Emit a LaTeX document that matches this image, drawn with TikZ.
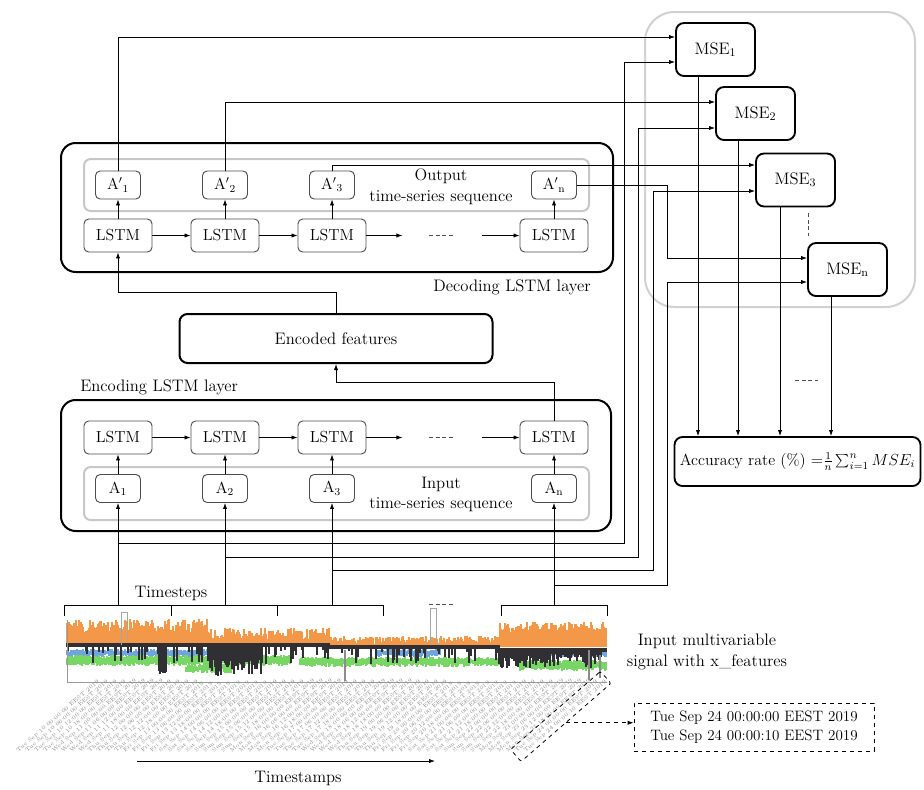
\documentclass[tikz,border=0pt]{standalone}
\usetikzlibrary{arrows.meta,calc,fit}
\definecolor{sigorange}{RGB}{242,152,72}
\definecolor{sigblue}{RGB}{110,165,225}
\definecolor{siggreen}{RGB}{120,215,100}
\definecolor{sigblack}{RGB}{48,48,52}
\def\wdname#1{\ifcase#1 Tue\or Wed\or Thu\or Fri\or Sat\or Sun\or Mon\fi}
\begin{document}
\begin{tikzpicture}[x=0.75pt,y=-0.75pt,
  font=\fontsize{12.5}{15.5}\selectfont,
  conn/.style={line width=0.6pt,-{Latex[length=4.5pt,width=3.2pt]}},
  plain/.style={line width=0.6pt},
  lstm/.style={draw=black!70,line width=0.7pt,rounded corners=3.5pt,minimum width=51pt,minimum height=24.75pt,inner sep=0pt,font=\fontsize{12}{14}\selectfont},
  abox/.style={lstm,minimum width=33.75pt,minimum height=21pt},
  layerbox/.style={draw,line width=1.5pt,rounded corners=11pt,inner sep=0pt},
  seqbox/.style={draw=black!22,line width=1.5pt,rounded corners=5pt,inner sep=0pt},
  msebox/.style={draw,line width=1.4pt,rounded corners=6pt,minimum width=59.25pt,minimum height=39.75pt,inner sep=0pt},
  lbl/.style={inner sep=0pt},
  dots/.style={black!70,line width=0.6pt,dash pattern=on 3pt off 2pt},
  tslabel/.style={inner sep=0.2pt,text=black!45,font=\fontsize{4.2}{4.5}\selectfont,rotate=41,anchor=west}
]
\useasboundingbox (0,0) rectangle (924,789);

% ---------- MSE group ----------
\node[draw=black!18,line width=1.5pt,rounded corners=22pt,minimum width=202.5pt,minimum height=221.25pt] (msegroup) at (780,159.5) {};
\node[msebox] (mse1) at (715.5,49.5) {MSE\textsubscript{1}};
\node[msebox] (mse2) at (755.5,113.5) {MSE\textsubscript{2}};
\node[msebox] (mse3) at (795.5,180) {MSE\textsubscript{3}};
\node[msebox] (msen) at (847.5,269.5) {MSE\textsubscript{n}};
\draw[dots] (808,213) -- (808,236);

% ---------- Decoder ----------
\node[layerbox,minimum width=414pt,minimum height=96.75pt] (dec) at (337,207.5) {};
\node[seqbox,minimum width=378.75pt,minimum height=39pt] (decseq) at (336.5,185) {};
\node[abox] (ap1) at (118,185) {A$'$\textsubscript{1}};
\node[abox] (ap2) at (225,185) {A$'$\textsubscript{2}};
\node[abox] (ap3) at (332,185) {A$'$\textsubscript{3}};
\node[abox] (apn) at (554,185) {A$'$\textsubscript{n}};
\node[lstm] (ld1) at (118,235.5) {LSTM};
\node[lstm] (ld2) at (225,235.5) {LSTM};
\node[lstm] (ld3) at (332,235.5) {LSTM};
\node[lstm] (ldn) at (554,235.5) {LSTM};
\node[lbl,align=center] (outtxt) at (441,187) {Output\\time-series sequence};
\node[lbl,anchor=east] (declbl) at (591,287) {Decoding LSTM layer};

% ---------- Encoded features ----------
\node[draw,line width=1.5pt,rounded corners=6pt,minimum width=234.75pt,minimum height=36.75pt] (ef) at (336,338.5) {Encoded features};

% ---------- Encoder ----------
\node[lbl,anchor=west] (enclbl) at (80,387) {Encoding LSTM layer};
\node[layerbox,minimum width=412.5pt,minimum height=98.25pt] (enc) at (336,465.5) {};
\node[seqbox,minimum width=378.75pt,minimum height=39.75pt] (encseq) at (336.5,493.5) {};
\node[lstm] (le1) at (118,437.5) {LSTM};
\node[lstm] (le2) at (225,437.5) {LSTM};
\node[lstm] (le3) at (332,437.5) {LSTM};
\node[lstm] (len) at (554,437.5) {LSTM};
\node[abox] (a1) at (118,488.5) {A\textsubscript{1}};
\node[abox] (a2) at (225,488.5) {A\textsubscript{2}};
\node[abox] (a3) at (332,488.5) {A\textsubscript{3}};
\node[abox] (an) at (554,488.5) {A\textsubscript{n}};
\node[lbl,align=center] (intxt) at (441,494.5) {Input\\time-series sequence};

% ---------- Accuracy ----------
\node[draw,line width=1.4pt,rounded corners=6pt,minimum width=184.5pt,minimum height=36.75pt,inner sep=0pt,font=\fontsize{12}{14}\selectfont] (acc) at (797.5,461.5) {Accuracy rate (\%) =$\frac{1}{n}\sum_{i=1}^{n}MSE_{i}$};

% ---------- chains ----------
\draw[conn] (ld1.east) -- (ld2.west);
\draw[conn] (ld2.east) -- (ld3.west);
\draw[conn] (ld3.east) -- ++(36,0);
\draw[dots] (429,235.5) -- (454,235.5);
\draw[conn] ($(ldn.west)+(-38,0)$) -- (ldn.west);
\foreach \k in {1,2,3,n}{\draw[conn] (ld\k.north) -- (ap\k.south);}

\draw[conn] (le1.east) -- (le2.west);
\draw[conn] (le2.east) -- (le3.west);
\draw[conn] (le3.east) -- ++(36,0);
\draw[dots] (429,437.5) -- (454,437.5);
\draw[conn] ($(len.west)+(-38,0)$) -- (len.west);
\foreach \k in {1,2,3,n}{\draw[conn] (a\k.north) -- (le\k.south);}

\draw[conn] (len.north) -- ++(0,-38) -| (ef.south);
\draw[conn] (ef.north) -- ++(0,-21) -| (ld1.south);

% ---------- decoder outputs to MSE ----------
\draw[conn] (ap1.north) |- ($(mse1.west)+(0,-12.5)$);
\draw[conn] (ap2.north) |- ($(mse2.west)+(0,-11.5)$);
\draw[conn] (ap3.north) |- ($(mse3.west)+(0,-15)$);
\draw[conn] (apn.east) -- ++(90.5,0) |- ($(msen.west)+(0,-11.5)$);

% ---------- MSE to accuracy ----------
\coordinate (o1) at ($(mse1.south)+(-17.5,0)$);
\coordinate (o2) at ($(mse2.south)+(-17.5,0)$);
\coordinate (o3) at ($(mse3.south)+(-15.5,0)$);
\coordinate (on) at ($(msen.south)+(-16.5,0)$);
\foreach \k in {1,2,3,n}{\draw[conn] (o\k) -- (o\k |- acc.north);}
\draw[dots] (795,380) -- (818,380);

% ---------- timestep brackets ----------
\draw[plain] (64,616) -- (64,605) -- (383,605) -- (383,616);
\draw[plain] (171,605) -- (171,616);
\draw[plain] (277,605) -- (277,616);
\draw[plain] (501,616) -- (501,605) -- (607,605) -- (607,616);
\draw[dots] (429,604) -- (454,604);
\node[lbl] (tsteps) at (171,593) {Timesteps};

\coordinate (b1) at (118,605);
\coordinate (b2) at (225,605);
\coordinate (b3) at (332,605);
\coordinate (bn) at (554,605);
\foreach \k in {1,2,3,n}{\draw[conn] (b\k) -- (a\k.south);}

\coordinate (j1) at (118,543);
\coordinate (j2) at (225,557);
\coordinate (j3) at (332,570);
\coordinate (jn) at (554,585);
\draw[conn] (j1) -- (624,543) |- ($(mse1.west)+(0,12.5)$);
\draw[conn] (j2) -- (638,557) |- ($(mse2.west)+(0,14.5)$);
\draw[conn] (j3) -- (653,570) |- ($(mse3.west)+(0,11)$);
\draw[conn] (jn) -- (667,585) |- ($(msen.west)+(0,12.5)$);

% ---------- signal chart ----------
\pgfmathsetseed{4242}
\foreach \x in {67,...,606}{
  \pgfmathsetmacro\otop{\x<210 ? 619+14*rnd : (\x<330 ? 628+12*rnd : (\x<500 ? 636+8*rnd : 622+10*rnd))}
  \draw[sigorange,line width=0.8pt] (\x,\otop) -- (\x,647);
}
\foreach \a/\b in {67/250,376/440,540/606}{
  \foreach \x in {\a,...,\b}{
    \draw[sigblue,line width=0.8pt] (\x,{649+3*rnd}) -- (\x,{654+3*rnd});
  }
}
\foreach \a/\b/\c/\d in {67/290/655/662,186/232/664/669,300/500/657/663,520/606/660/667}{
  \foreach \x in {\a,...,\b}{
    \draw[siggreen,line width=0.8pt] (\x,{\c+3*rnd}) -- (\x,{\d+4*rnd});
  }
}
\foreach \x in {67,...,606}{
  \pgfmathsetmacro\sbase{\x<330 ? 643 : (\x<500 ? 645 : 648)}
  \pgfmathsetmacro\spk{(\x>158 && \x<167) ? 668+6*rnd : ((\x>208 && \x<262) ? 650+26*rnd : ((\x>495 && \x<600) ? 652+16*rnd : (rnd>0.8 ? 650+14*rnd : \sbase+4)))}
  \draw[sigblack,line width=0.8pt] (\x,\sbase) -- (\x,\spk);
}
\draw[black!45,line width=0.8pt] (345,650) -- (345,681);
\draw[black!45,line width=0.8pt] (589,650) -- (589,680);
\draw[black!45,line width=0.8pt] (600,655) -- (600,678);
\draw[black!35,line width=0.5pt] (121,645) -- (121,612) -- (127,612) -- (127,640);
\draw[black!35,line width=0.5pt] (430,645) -- (430,608) -- (436,608) -- (436,645);
\draw[black!40,line width=0.5pt] (67,620) -- (67,682) -- (607,682);
\node[lbl,align=center] (sigtxt) at (707,652) {Input multivariable\\signal with x\_features};

% ---------- timestamps ----------
\foreach \i in {0,...,56}{
  \pgfmathtruncatemacro\tsday{10+floor(\i/4)}
  \pgfmathtruncatemacro\tshr{6*mod(\i,4)}
  \pgfmathtruncatemacro\wdi{mod(\tsday-10,7)}
  \node[tslabel] (ts\i) at ({17+8.9*\i},752) {\wdname{\wdi} Sep \tsday\ \ifnum\tshr<10 0\fi\tshr:00:00 EEST 2019};
}
\node[tslabel] (ts57) at ({17+8.9*57},752) {Tue Sep 24 00:00:10 EEST 2019};
\node[draw,dashed,line width=0.6pt,rounded corners=1.5pt,inner sep=1.5pt,rotate fit=41,fit=(ts56)(ts57)] (tsf) {};

\node[draw,dashed,line width=0.6pt,minimum width=180pt,minimum height=36pt,align=left,font=\fontsize{11.3}{14}\selectfont] (call) at (754,727) {Tue Sep 24 00:00:00 EEST 2019\\Tue Sep 24 00:00:10 EEST 2019};
\draw[conn,dashed] (tsf.south) -- (tsf.south -| call.west);

\coordinate (tsa) at (137,761);
\coordinate (tsb) at (435,761);
\draw[conn] (tsa) -- (tsb);
\node[lbl] (tstxt) at (298,778) {Timestamps};
\end{tikzpicture}
\end{document}
